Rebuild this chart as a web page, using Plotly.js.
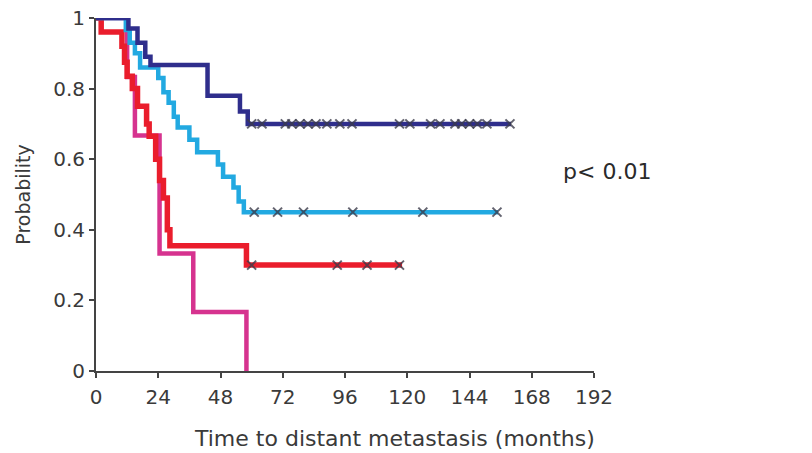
<!DOCTYPE html>
<html>
<head>
<meta charset="utf-8">
<script src="https://cdn.plot.ly/plotly-3.0.1.min.js"></script>
<style>html,body{margin:0;padding:0;background:#fff;}#chart{width:812px;height:453px;}</style>
</head>
<body>
<div id="chart"></div>
<script>
// Kaplan-Meier step data (time in months, probability)
const navyTimes = [0, 12.5, 16, 19, 21, 43, 55.5, 58.5, 160];
const navyProb  = [1, 0.97, 0.93, 0.89, 0.867, 0.78, 0.735, 0.70, 0.70];
const navyCensor = [60, 64, 73, 75.5, 78.6, 81.7, 84.8, 89, 94, 98.7, 117, 121, 129, 132.6, 138.4, 141, 144, 147, 150.7, 159.6];

const cyanTimes = [0, 11.5, 13, 15, 17, 24, 26, 28, 30, 31.5, 36, 39, 47, 49, 53, 55, 57, 155];
const cyanProb  = [1, 0.966, 0.93, 0.90, 0.86, 0.83, 0.79, 0.76, 0.72, 0.69, 0.655, 0.62, 0.585, 0.55, 0.52, 0.48, 0.45, 0.45];
const cyanCensor = [61, 70, 80, 99, 126, 154.6];

const redTimes = [0, 2, 10, 11, 12, 14, 16, 19.5, 20.5, 23, 24.5, 26, 27.5, 28.5, 58, 118];
const redProb  = [1, 0.96, 0.92, 0.875, 0.835, 0.80, 0.75, 0.70, 0.665, 0.60, 0.54, 0.49, 0.40, 0.355, 0.30, 0.30];
const redCensor = [60, 93, 104.5, 117];

const magTimes = [0, 12, 15, 24.5, 37.5, 58];
const magProb  = [1, 0.833, 0.667, 0.333, 0.167, 0];

const xTicks = [0, 24, 48, 72, 96, 120, 144, 168, 192];
const yTicks = [0, 0.2, 0.4, 0.6, 0.8, 1];
const xTitle = 'Time to distant metastasis (months)';
const yTitle = 'Probability';
const pText = 'p&lt; 0.01';

function stepAt(times, probs, t) {
  let p = probs[0];
  for (let i = 0; i < times.length; i++) { if (times[i] <= t) p = probs[i]; }
  return p;
}
function lineTrace(x, y, color, w) {
  return {x: x, y: y, mode: 'lines', line: {shape: 'hv', color: color, width: w}, cliponaxis: false, hoverinfo: 'skip'};
}
function censorTrace(ct, times, probs) {
  return {x: ct, y: ct.map(t => stepAt(times, probs, t)), mode: 'markers', cliponaxis: false,
    marker: {symbol: 'x-thin', size: 9, line: {width: 2, color: 'rgba(60,60,75,0.8)'}}, hoverinfo: 'skip'};
}

const data = [
  lineTrace(magTimes, magProb, '#d6338f', 4.5),
  lineTrace(redTimes, redProb, '#ea1d2c', 5.5),
  censorTrace(redCensor, redTimes, redProb),
  lineTrace(cyanTimes, cyanProb, '#22a9e1', 4.5),
  censorTrace(cyanCensor, cyanTimes, cyanProb),
  lineTrace(navyTimes, navyProb, '#2f2e8c', 4.5),
  censorTrace(navyCensor, navyTimes, navyProb)
];

const FAM = 'DejaVu Sans, Liberation Sans, Arial, sans-serif';
const tickFont = {family: FAM, size: 20, color: '#3a3a3a'};
const layout = {
  width: 812, height: 453,
  margin: {l: 96, r: 218, t: 18, b: 82},
  paper_bgcolor: '#fff', plot_bgcolor: '#fff',
  showlegend: false,
  font: tickFont,
  xaxis: {
    range: [0, 192], tickvals: xTicks, ticktext: xTicks.map(String),
    showline: true, linecolor: '#444', linewidth: 2, ticks: 'outside', ticklen: 5, tickwidth: 2, tickcolor: '#444',
    ticklabelstandoff: 2,
    showgrid: false, zeroline: false, tickfont: tickFont
  },
  yaxis: {
    range: [0, 1], tickvals: yTicks, ticktext: yTicks.map(String),
    showline: true, linecolor: '#444', linewidth: 2, ticks: 'outside', ticklen: 5, tickwidth: 2, tickcolor: '#444',
    showgrid: false, zeroline: false, tickfont: tickFont,
    title: {text: yTitle, font: {family: FAM, size: 19, color: '#3a3a3a'}, standoff: 18}
  },
  annotations: [{
    xref: 'paper', yref: 'paper', x: 0.6, y: -0.19, xanchor: 'center', yanchor: 'middle',
    text: xTitle, showarrow: false, font: {family: FAM, size: 22, color: '#3a3a3a'}
  }, {
    xref: 'paper', yref: 'paper', x: 0.934, y: 0.564, xanchor: 'left', yanchor: 'middle',
    text: pText, showarrow: false, font: {family: FAM, size: 22, color: '#2a2a2a'}
  }]
};
Plotly.newPlot('chart', data, layout, {displayModeBar: false, staticPlot: true});
</script>
</body>
</html>
